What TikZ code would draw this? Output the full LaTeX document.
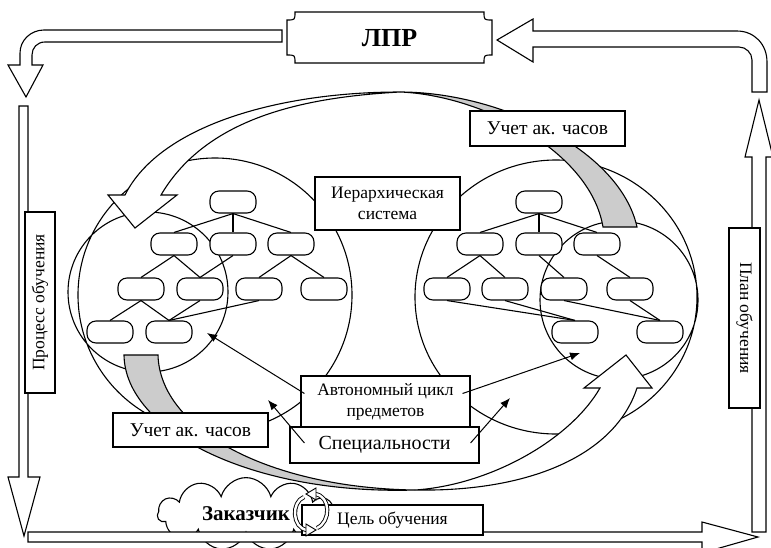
\documentclass[tikz,border=0pt]{standalone}
\usepackage{fontspec}
\setmainfont{Liberation Serif}
\usetikzlibrary{shapes.symbols,arrows.meta}

\begin{document}
\begin{tikzpicture}[x=1pt,y=-1pt,line width=1.1pt]
        \tikzstyle{every node}=[font=\fontsize{17.5}{21}\selectfont]
        \tikzstyle{pill}=[draw,fill=white,rounded corners=9pt,minimum width=46pt,minimum height=22pt,inner sep=0pt]
        \tikzstyle{box}=[draw,fill=white,align=center,inner sep=1pt]
        \tikzstyle{ptr}=[line width=1pt,-{Latex[length=10pt,width=8pt]}]
        \tikzstyle{hours}=[draw,fill=black!20]
        \tikzstyle{hollow}=[draw,fill=white]
        \tikzstyle{ring}=[line width=0.9pt,double,double distance=2.4pt]
        \useasboundingbox (0,0) rectangle (771,547);
        \clip (0,0) rectangle (771,547);
        \draw (215,295) circle (137) (148,292) circle (80) (556,297) ellipse (141 and 137) (619,300) circle (79);
        \foreach \n/\x/\y in {L0/233/202,L1/174/244,L2/233/244,L3/291/244,L4/141/289,L5/200/289,L6/259/289,L7/324/289,L8/110/332,L9/169/332,
                R0/539/202,R1/480/244,R2/539/244,R3/597/244,R4/447/289,R5/505/289,R6/564/289,R7/630/289,R8/575/332,R9/660/332}
            \node[pill] (\n) at (\x,\y) {};
        \foreach \a/\b in {L0/L1,L0/L2,L0/L3,L1/L4,L1/L5,L2/L5,L3/L6,L3/L7,L4/L8,L4/L9,L5/L9,L6/L9,
                R0/R1,R0/R2,R0/R3,R1/R4,R1/R5,R2/R6,R3/R7,R4/R8,R5/R8,R6/R9,R7/R9}
            \draw (\a.south) -- (\b.north);
        \draw[hollow] (125,195) .. controls (160,125) and (280,92) .. (400,92) .. controls (310,97) and (208,115) .. (161,195) -- (177,195) -- (135,228) -- (108,195) -- cycle;
        \draw[hours] (400,92) .. controls (500,92) and (620,150) .. (637,227) -- (603,227) .. controls (590,150) and (480,95) .. (400,92) -- cycle;
        \draw[hours] (124,355) -- (158,355) .. controls (160,430) and (270,488) .. (415,490) .. controls (250,495) and (125,430) .. (124,355) -- cycle;
        \draw[hollow] (415,490) .. controls (490,485) and (570,440) .. (600,388) -- (584,388) -- (626,355) -- (652,388) -- (637,388) .. controls (615,455) and (530,492) .. (415,490) -- cycle;
        \node[box,minimum width=145pt,minimum height=53pt] (hier) at (387.5,203.5) {Иерархическая\\система};
        \node[box,minimum width=155pt,minimum height=35pt,font=\fontsize{19.5}{23}\selectfont] (hoursA) at (547.5,128.5) {Учет ак. часов};
        \node[box,minimum width=155pt,minimum height=34pt,font=\fontsize{19.5}{23}\selectfont] (hoursB) at (190.5,430) {Учет ак. часов};
        \node[box,minimum width=169pt,minimum height=51pt] (auto) at (385.5,401.5) {Автономный цикл\\предметов};
        \node[box,minimum width=189pt,minimum height=36pt,font=\fontsize{20}{24}\selectfont] (spec) at (384.5,445) {Специальности};
        \coordinate (pA) at (207,333);
        \coordinate (pB) at (580,353);
        \coordinate (pC) at (268,400);
        \coordinate (pD) at (510,398);
        \draw[ptr] ([xshift=4pt,yshift=8pt]auto.west) -- (pA);
        \draw[ptr] ([xshift=-8pt,yshift=8pt]auto.east) -- (pB);
        \draw[ptr] ([xshift=15pt,yshift=2pt]spec.west) -- (pC);
        \draw[ptr] ([xshift=-9pt,yshift=2pt]spec.east) -- (pD);
        \draw[hollow] (282,30) -- (44,30) .. controls (31,30) and (20,40) .. (20,53) -- (20,65) -- (8,65) -- (26,97) -- (43,65) -- (32,65) -- (32,55) .. controls (32,48) and (37,42) .. (45,42) -- (282,42) -- cycle;
        \draw[hollow] (533,31) -- (737,31) .. controls (754,31) and (767,44) .. (767,62) -- (767,92) -- (752,92) -- (752,60) .. controls (752,53) and (746,47) .. (739,47) -- (533,47) -- (533,62) -- (497,40) -- (533,19) -- cycle;
        \draw[hollow] (19,106) -- (28,106) -- (28,477) -- (40,477) -- (24,536) -- (8,477) -- (19,477) -- cycle;
        \draw[hollow] (752,532) -- (752,157) -- (745,157) -- (759,100) -- (773,157) -- (766,157) -- (766,532) -- cycle;
        \draw[hollow] (295,12) -- (484,12) .. controls (484,20) .. (492,20) -- (492,55) .. controls (484,55) .. (484,63) -- (295,63) .. controls (295,55) .. (287,55) -- (287,20) .. controls (295,20) .. (295,12) -- cycle;
        \node[font=\fontsize{26}{30}\selectfont\bfseries] (dm) at (389.5,38) {ЛПР};
        \node[box,rotate=90,minimum width=181pt,minimum height=30pt] (learn) at (40,302.5) {Процесс обучения};
        \node[box,rotate=-90,minimum width=180pt,minimum height=31pt] (plan) at (744.5,318) {План обучения};
        \node[cloud,draw,fill=white,cloud puffs=11,aspect=2.6,minimum width=177pt,minimum height=68pt,inner sep=0pt,font=\fontsize{21}{25}\selectfont\bfseries] (client) at (246,514) {Заказчик};
        \draw[hollow] (28,532) -- (702,532) -- (702,522) -- (758,537) -- (702,553) -- (702,542) -- (28,542) -- cycle;
        \node[box,minimum width=181pt,minimum height=30pt] (goal) at (392.5,520) {Цель обучения};
        \draw[ring] (304,497) .. controls (291,502) and (292,528) .. (307,530);
        \draw[ring] (317,528) .. controls (331,522) and (331,496) .. (315,494);
        \draw[hollow,line width=0.9pt] (306,524) -- (316,530) -- (306,536) -- cycle;
        \draw[hollow,line width=0.9pt] (316,488) -- (306,494) -- (316,500) -- cycle;
\end{tikzpicture}
\end{document}
